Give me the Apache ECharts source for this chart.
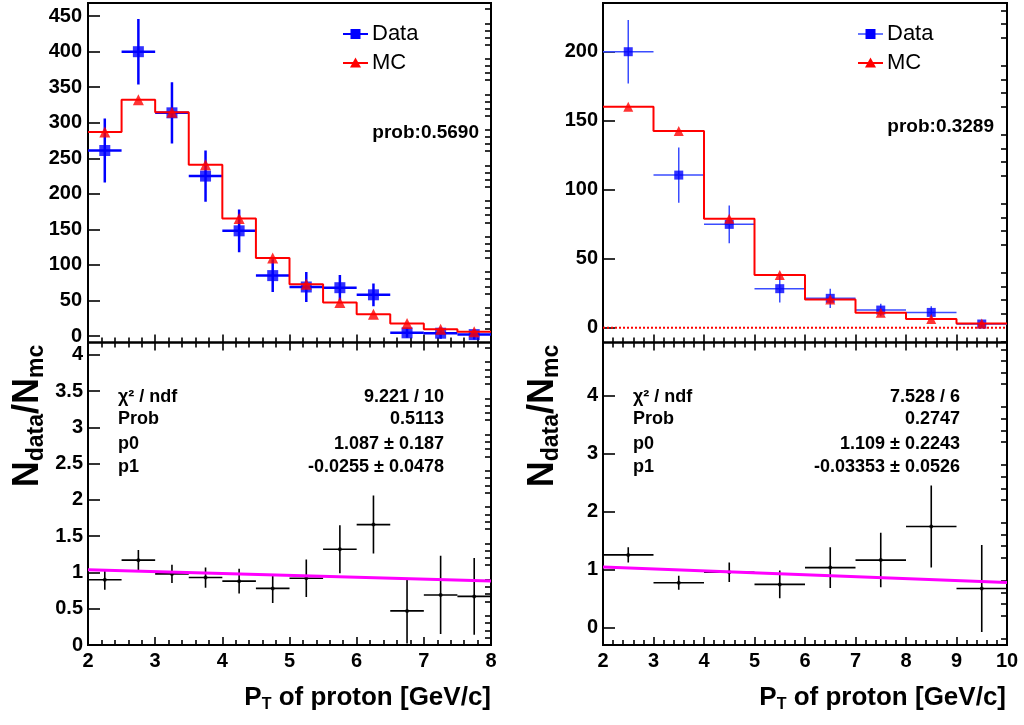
<!DOCTYPE html>
<html><head><meta charset="utf-8">
<script src="https://cdn.jsdelivr.net/npm/echarts@6/dist/echarts.min.js"></script>
<style>html,body{margin:0;padding:0;background:#fff}#c{width:1024px;height:725px}</style>
</head><body><div id="c"></div>
<script>
// ---------- data: left panels (bins of 0.5 GeV/c) ----------
const binCentersL = [2.25,2.75,3.25,3.75,4.25,4.75,5.25,5.75,6.25,6.75,7.25,7.75];
const binHalfL = 0.25;
const dataL    = [261,400,314,225,148,85,69,68,58,4.5,4,2];
const dataErrL = [45,46,43,36,30,23,21,18,16,7,8,7];
const mcL      = [287,332.5,314.7,241,165.5,109.7,73,47,30.5,17.8,9.4,6.1];
const ratioL    = [0.90,1.17,0.98,0.93,0.88,0.78,0.92,1.32,1.66,0.47,0.69,0.67];
const ratioErrL = [0.14,0.14,0.125,0.14,0.17,0.20,0.26,0.33,0.40,0.45,0.54,0.53];
const fitL = [[2,1.036],[8,0.883]];
// ---------- data: right panels (bins of 1 GeV/c) ----------
const binCentersR = [2.5,3.5,4.5,5.5,6.5,7.5,8.5,9.5];
const binHalfR = 0.5;
const dataR    = [200,110.6,74.9,28.3,21.3,12.8,11.1,2.7];
const dataErrR = [23,20,13.7,10,7,4.5,4.5,2];
const mcR      = [160.1,142.5,79,38.2,20.5,10.9,6.3,3.1];
const ratioR    = [1.25,0.77,0.95,0.74,1.03,1.16,1.74,0.67];
const ratioErrR = [0.13,0.12,0.17,0.24,0.35,0.47,0.71,0.75];
const fitR = [[2,1.042],[10,0.774]];
// ---------- axes / ticks ----------
const xRangeL = [2,8], xRangeR = [2,10];
const yRangeLT = [-9.1,468.5], yRangeLB = [0,4.17], yRangeRT = [-10.7,235.3], yRangeRB = [-0.306,4.917];
const yTicksLT = [0,50,100,150,200,250,300,350,400,450];
const yTicksLB = [0,0.5,1,1.5,2,2.5,3,3.5,4];
const yTicksRT = [0,50,100,150,200];
const yTicksRB = [0,1,2,3,4];
// ---------- texts ----------
const legendNames = ['Data','MC'];
const probL = 'prob:0.5690', probR = 'prob:0.3289';
const statLabels = ['χ² / ndf','Prob','p0','p1'];
const statValsL = ['9.221 / 10','0.5113','1.087 ± 0.187','-0.0255 ± 0.0478'];
const statValsR = ['7.528 / 6','0.2747','1.109 ± 0.2243','-0.03353 ± 0.0526'];

const FF = '"Liberation Sans", Arial, Helvetica, sans-serif';
const BLK = '#000';

function minors(lo, hi, step, majors) {
  const out = [];
  for (let k = Math.ceil(lo / step - 1e-9); k * step <= hi + 1e-9; k++) {
    const v = +(k * step).toFixed(6);
    if (v <= lo || v >= hi) continue;
    if (!majors.some(m => Math.abs(m - v) < 1e-9)) out.push(v);
  }
  return out;
}
function yAx(grid, range, majors, minorStep, margin) {
  const base = {type:'value', gridIndex:grid, min:range[0], max:range[1],
    axisLine:{show:false,onZero:false}, splitLine:{show:false}};
  return [
    Object.assign({}, base, {
      axisTick:{show:true, inside:true, length:12, lineStyle:{color:BLK,width:1.6}, customValues:majors},
      axisLabel:{show:true, customValues:majors, margin:margin, color:BLK, fontSize:20, fontWeight:'bold', fontFamily:FF}
    }),
    Object.assign({}, base, {
      axisTick:{show:true, inside:true, length:6, lineStyle:{color:BLK,width:1.6}, customValues:minors(range[0],range[1],minorStep,majors)},
      axisLabel:{show:false}
    })
  ];
}
function xAx(grid, range, showLabel, pos) {
  return {type:'value', gridIndex:grid, min:range[0], max:range[1], interval:1, position:pos,
    axisLine:{show:false,onZero:false}, splitLine:{show:false},
    axisTick:{show:true, inside:true, length:8, lineStyle:{color:BLK,width:1.6}},
    minorTick:{show:true, splitNumber:5, length:5, lineStyle:{color:BLK,width:1.6}},
    axisLabel:{show:showLabel, margin:6, color:BLK, fontSize:20, fontWeight:'bold', fontFamily:FF}};
}
function errRender(color, width) {
  return function (params, api) {
    const x = api.value(0), y = api.value(1), e = api.value(2), hw = api.value(3);
    const pL = api.coord([x - hw, y]), pR = api.coord([x + hw, y]);
    const pT = api.coord([x, y + e]), pB = api.coord([x, y - e]);
    const st = {stroke:color, lineWidth:width};
    return {type:'group', children:[
      {type:'line', shape:{x1:pL[0],y1:pL[1],x2:pR[0],y2:pR[1]}, style:st},
      {type:'line', shape:{x1:pT[0],y1:pT[1],x2:pB[0],y2:pB[1]}, style:st}
    ]};
  };
}
function errData(c, v, e, hw) { return c.map((x, i) => [x, v[i], e[i], hw]); }
function stepData(c, v, hw) {
  const d = c.map((x, i) => [x - hw, v[i]]);
  d.push([c[c.length - 1] + hw, v[v.length - 1]]);
  return d;
}
function pts(c, v) { return c.map((x, i) => [x, v[i]]); }

function topSeries(xi, yi, c, hw, data, err, mc, errColor, errW, sqSize, triSize) {
  return [
    {type:'custom', xAxisIndex:xi, yAxisIndex:yi, renderItem:errRender(errColor, errW), clip:true,
      data:errData(c, data, err, hw), encode:{x:0,y:1}, z:2, silent:true},
    {type:'scatter', xAxisIndex:xi, yAxisIndex:yi, symbol:'rect', symbolSize:sqSize,
      itemStyle:{color:'#0000ff'}, data:pts(c, data), z:3, silent:true},
    {type:'line', xAxisIndex:xi, yAxisIndex:yi, step:'end', showSymbol:false, symbol:'none',
      lineStyle:{color:'#ff0000', width:2}, data:stepData(c, mc, hw), z:4, silent:true},
    {type:'scatter', xAxisIndex:xi, yAxisIndex:yi, symbol:'triangle', symbolSize:triSize,
      itemStyle:{color:'#ff0000'}, data:pts(c, mc), z:5, silent:true}
  ];
}
function ratioSeries(xi, yi, c, hw, r, re, fit) {
  return [
    {type:'custom', xAxisIndex:xi, yAxisIndex:yi, renderItem:errRender('#000', 1.6), clip:true,
      data:errData(c, r, re, hw), encode:{x:0,y:1}, z:2, silent:true},
    {type:'scatter', xAxisIndex:xi, yAxisIndex:yi, symbol:'circle', symbolSize:4,
      itemStyle:{color:'#000'}, data:pts(c, r), z:3, silent:true},
    {type:'line', xAxisIndex:xi, yAxisIndex:yi, showSymbol:false, symbol:'none',
      lineStyle:{color:'#ff00ff', width:3}, data:fit, z:4, silent:true}
  ];
}

function txt(x, y, text, size, weight, align) {
  return {type:'text', x:x, y:y, z:100, style:{text:text, font:weight + ' ' + size + 'px ' + FF,
    fill:'#000', align:align, verticalAlign:'middle'}};
}
function legendGroup(x0, lineColor) {
  return [
    {type:'line', shape:{x1:x0,y1:34,x2:x0+25,y2:34}, style:{stroke:lineColor, lineWidth:2}, z:100},
    {type:'rect', shape:{x:x0+7.5,y:29,width:10,height:10}, style:{fill:'#0000ff'}, z:101},
    {type:'line', shape:{x1:x0,y1:63,x2:x0+25,y2:63}, style:{stroke:'#ff0000', lineWidth:2}, z:100},
    {type:'polygon', shape:{points:[[x0+12.5,57.5],[x0+7,67.5],[x0+18,67.5]]}, style:{fill:'#ff0000'}, z:101},
    txt(x0+29, 34, legendNames[0], 22, 'normal', 'left'),
    txt(x0+29, 63, legendNames[1], 22, 'normal', 'left')
  ];
}
function statsGroup(xl, xr, vals) {
  const rows = [397, 419, 444, 467];
  const out = [];
  rows.forEach((y, i) => {
    out.push(txt(xl, y, statLabels[i], 18, 'bold', 'left'));
    out.push(txt(xr, y, vals[i], 18, 'bold', 'right'));
  });
  return out;
}
function yTitle(x, y) {
  return {type:'text', x:x, y:y, rotation:Math.PI/2, z:100, style:{
    text:'{n|N}{s|data}{n|/N}{s|mc}', align:'center', verticalAlign:'middle', fill:'#000',
    rich:{n:{fontSize:36, fontWeight:'bold', fontFamily:FF, lineHeight:40, fill:'#000'},
          s:{fontSize:23, fontWeight:'bold', fontFamily:FF, lineHeight:18, verticalAlign:'bottom', fill:'#000'}}}};
}
function xTitle(x, y) {
  return {type:'text', x:x, y:y, z:100, style:{
    text:'{b|P}{s|T}{b| of proton [GeV/c]}', align:'right', verticalAlign:'middle', fill:'#000',
    rich:{b:{fontSize:26, fontWeight:'bold', fontFamily:FF, lineHeight:30, fill:'#000'},
          s:{fontSize:16, fontWeight:'bold', fontFamily:FF, lineHeight:14, verticalAlign:'bottom', fill:'#000'}}}};
}

const gridStyle = {show:true, borderColor:'#000', borderWidth:2, backgroundColor:'transparent', containLabel:false};
const option = {
  animation:false,
  backgroundColor:'#fff',
  grid:[
    Object.assign({left:88, top:3, width:403, height:339.5}, gridStyle),
    Object.assign({left:88, top:342.5, width:403, height:302.5}, gridStyle),
    Object.assign({left:603, top:3, width:404, height:339.5}, gridStyle),
    Object.assign({left:603, top:342.5, width:404, height:302.5}, gridStyle)
  ],
  xAxis:[
    xAx(0, xRangeL, false, 'bottom'),
    xAx(1, xRangeL, true, 'bottom'),
    xAx(1, xRangeL, false, 'top'),
    xAx(2, xRangeR, false, 'bottom'),
    xAx(3, xRangeR, true, 'bottom'),
    xAx(3, xRangeR, false, 'top')
  ],
  yAxis:[].concat(
    yAx(0, yRangeLT, yTicksLT, 10, 6),
    yAx(1, yRangeLB, yTicksLB, 0.1, 5),
    yAx(2, yRangeRT, yTicksRT, 10, 5),
    yAx(3, yRangeRB, yTicksRB, 0.2, 5)
  ),
  series:[].concat(
    topSeries(0, 0, binCentersL, binHalfL, dataL, dataErrL, mcL, '#0000ff', 2.5, 11, 11),
    ratioSeries(1, 2, binCentersL, binHalfL, ratioL, ratioErrL, fitL),
    [{type:'line', xAxisIndex:3, yAxisIndex:4, showSymbol:false, symbol:'none', z:1, silent:true,
      lineStyle:{color:'#ff0000', width:2, type:'dotted'}, data:[[xRangeR[0],0],[xRangeR[1],0]]}],
    topSeries(3, 4, binCentersR, binHalfR, dataR, dataErrR, mcR, '#3a4dff', 1.5, 9, 10),
    ratioSeries(4, 6, binCentersR, binHalfR, ratioR, ratioErrR, fitR)
  ),
  graphic:[].concat(
    legendGroup(343, '#0000ff'),
    legendGroup(858, '#6677ff'),
    [txt(479, 133, probL, 19, 'bold', 'right'), txt(994, 127, probR, 19, 'bold', 'right')],
    statsGroup(118, 444, statValsL),
    statsGroup(633, 960, statValsR),
    [yTitle(28, 416), yTitle(543, 416), xTitle(491, 698), xTitle(1006, 698)]
  )
};
const chart = echarts.init(document.getElementById('c'), null, {renderer:'canvas'});
chart.setOption(option);
</script>
</body></html>
